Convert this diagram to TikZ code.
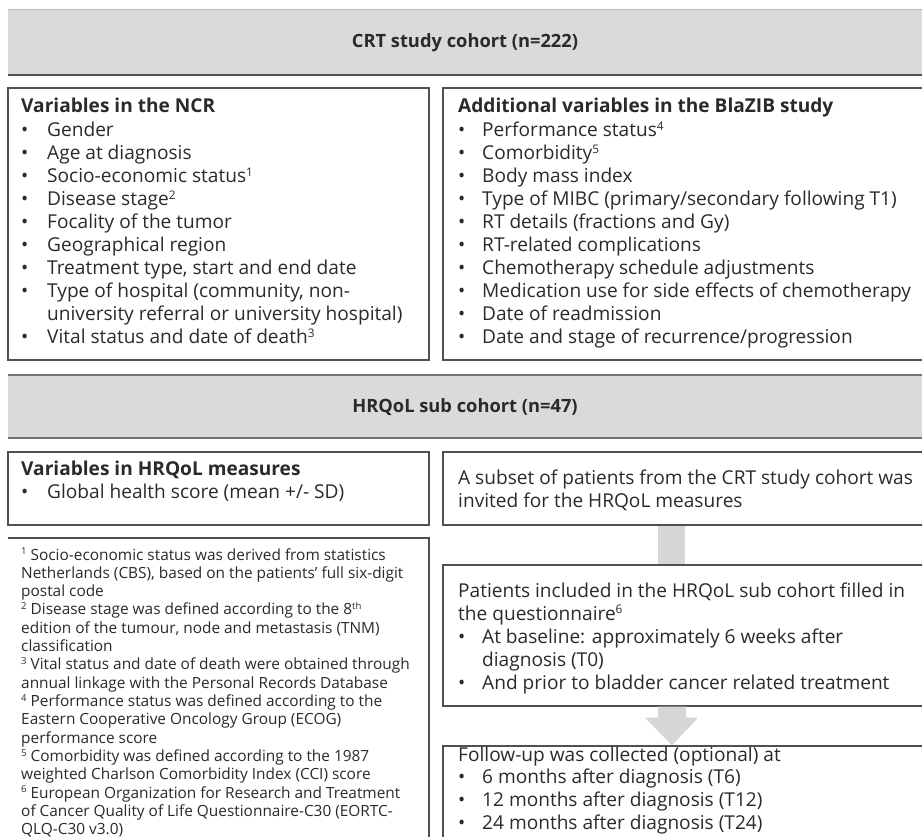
\documentclass[tikz,border=0pt]{standalone}
\usepackage{fontspec}
\setmainfont{Open Sans}
\usetikzlibrary{calc}
\definecolor{bangray}{HTML}{D9DADA}
\definecolor{edgegray}{HTML}{505050}
\definecolor{lightedge}{HTML}{BDBDBD}
\definecolor{txtc}{HTML}{2A2A2A}
\definecolor{flowgray}{HTML}{D5D6D6}
\newcommand\mainsz{\fontsize{19.1}{23}\selectfont}
\newcommand\bansz{\fontsize{18.3}{23}\selectfont}
\newcommand\fnsz{\fontsize{15.4}{18.3}\selectfont}
\newcommand\supnum[1]{\raisebox{0.36em}{\fontsize{0.62em}{0.62em}\selectfont #1}}
\begin{document}
\begin{tikzpicture}[x=1pt,y=-1pt,
  box/.style={draw=edgegray, line width=1.3pt, fill=white, anchor=north west, inner sep=0pt, outer sep=0pt},
  banner/.style={fill=bangray, anchor=north west, inner sep=0pt, outer sep=0pt},
  txt/.style={anchor=base west, inner sep=0pt, text=txtc, font=\mainsz},
  hd/.style={anchor=base west, inner sep=0pt, text=txtc, font=\mainsz\bfseries},
  bantxt/.style={anchor=base, inner sep=0pt, text=txtc, font=\bansz\bfseries},
  fn/.style={anchor=base west, inner sep=0pt, text=txtc, font=\fnsz}]
\useasboundingbox (0,0) rectangle (922,837);
\clip (0,0) rectangle (922,837);
\fill[white] (0,0) rectangle (922,837);

% ---------- banner 1
\node[banner, minimum width=940pt, minimum height=65pt] (ban1) at (8,10) {};
\draw[lightedge, line width=1pt] (ban1.north west) -- (ban1.north east);
\draw[edgegray, line width=1.3pt] (ban1.south west) -- (ban1.south east);
\node[bantxt] (ban1t) at (465,48) {CRT study cohort (n=222)};

% ---------- boxes row 1
\node[box, minimum width=421pt, minimum height=272pt] (b1l) at (8,88) {};
\node[box, minimum width=520pt, minimum height=272pt] (b1r) at (443,88) {};

\node[hd] (b1lh) at (21,113) {Variables in the NCR};
\foreach \t [count=\i from 0] in {Gender, Age at diagnosis, {Socio-economic status\supnum{1}}, {Disease stage\supnum{2}}, Focality of the tumor, Geographical region, {Treatment type, start and end date}, {Type of hospital (community, non-}}{
  \node[txt] (b1lb\i) at (21,{137+23*\i}) {\textbullet};
  \node[txt] (b1lt\i) at (47,{137+23*\i}) {\t};
}
\node[txt] (b1lc) at (47,321) {university referral or university hospital)};
\node[txt] (b1lb9) at (21,344) {\textbullet};
\node[txt] (b1lt9) at (47,344) {Vital status and date of death\supnum{3}};

\node[hd] (b1rh) at (458,113) {Additional variables in the BlaZIB study};
\foreach \t [count=\i from 0] in {{Performance status\supnum{4}}, {Comorbidity\supnum{5}}, Body mass index, {Type of MIBC (primary/secondary following T1)}, {RT details (fractions and Gy)}, RT-related complications, Chemotherapy schedule adjustments, Medication use for side effects of chemotherapy, Date of readmission, Date and stage of recurrence/progression}{
  \node[txt] (b1rb\i) at (458,{137+23*\i}) {\textbullet};
  \node[txt] (b1rt\i) at (482,{137+23*\i}) {\t};
}

% ---------- banner 2
\node[banner, minimum width=940pt, minimum height=63pt] (ban2) at (8,375) {};
\draw[edgegray!80, line width=1.3pt] (ban2.north west) -- (ban2.north east);
\draw[edgegray!80, line width=1.3pt] (ban2.south west) -- (ban2.south east);
\node[bantxt] (ban2t) at (465,413) {HRQoL sub cohort (n=47)};

% ---------- boxes row 2
\node[box, minimum width=421pt, minimum height=73pt] (b2l) at (8,452) {};
\node[box, minimum width=520pt, minimum height=73pt] (b2r) at (443,452) {};
\node[hd] (b2lh) at (21,475) {Variables in HRQoL measures};
\node[txt] (b2lb) at (21,498) {\textbullet};
\node[txt] (b2lt) at (47,498) {Global health score (mean +/- SD)};
\node[txt] (b2r1) at (458,484) {A subset of patients from the CRT study cohort was};
\node[txt] (b2r2) at (458,507) {invited for the HRQoL measures};

% ---------- footnote box
\coordinate (fnTL) at (8,538);
\coordinate (fnTR) at (429,538);
\coordinate (fnBR) at (429,845);
\draw[edgegray, line width=1.3pt] (fnTL) -- (fnTR) -- (fnBR);
\foreach \t [count=\i from 0] in {
 {\supnum{1} Socio-economic status was derived from statistics},
 {Netherlands (CBS), based on the patients’ full six-digit},
 {postal code},
 {\supnum{2} Disease stage was defined according to the 8\supnum{th}},
 {edition of the tumour, node and metastasis (TNM)},
 {classification},
 {\supnum{3} Vital status and date of death were obtained through},
 {annual linkage with the Personal Records Database},
 {\supnum{4} Performance status was defined according to the},
 {Eastern Cooperative Oncology Group (ECOG)},
 {performance score},
 {\supnum{5} Comorbidity was defined according to the 1987},
 {weighted Charlson Comorbidity Index (CCI) score},
 {\supnum{6} European Organization for Research and Treatment},
 {of Cancer Quality of Life Questionnaire-C30 (EORTC-},
 {QLQ-C30 v3.0)}}{
  \node[fn] (fn\i) at (21,{560+18.33*\i}) {\t};
}

% ---------- box 3
\node[box, minimum width=520pt, minimum height=141pt] (b3) at (443,565) {};
\node[txt] (b3a) at (458,597) {Patients included in the HRQoL sub cohort filled in};
\node[txt] (b3b) at (458,620) {the questionnaire\supnum{6}};
\node[txt] (b3bb1) at (458,643) {\textbullet};
\node[txt] (b3t1) at (482,643) {At baseline: approximately 6 weeks after};
\node[txt] (b3t1c) at (482,666) {diagnosis (T0)};
\node[txt] (b3bb2) at (458,689) {\textbullet};
\node[txt] (b3t2) at (482,689) {And prior to bladder cancer related treatment};

% ---------- box 4
\node[box, minimum width=520pt, minimum height=130pt] (b4) at (443,746) {};
\node[txt] (b4a) at (458,761) {Follow-up was collected (optional) at};
\foreach \t [count=\i from 0] in {{6 months after diagnosis (T6)}, {12 months after diagnosis (T12)}, {24 months after diagnosis (T24)}}{
  \node[txt] (b4b\i) at (458,{783+23*\i}) {\textbullet};
  \node[txt] (b4t\i) at (482,{783+23*\i}) {\t};
}

% ---------- connectors
\fill[flowgray] ($(b2r.south west)+(215,0.7)$) rectangle ($(b3.north west)+(242,-0.7)$);
\coordinate (arT) at ($(b3.south west)+(229,0.7)$);
\coordinate (arB) at ($(b4.north west)+(229,-0.7)$);
\fill[flowgray] ($(arT)+(-14,0)$) -- ($(arT)+(14,0)$) -- ($(arT)+(14,11)$) -- ($(arT)+(26,11)$)
   -- (arB) -- ($(arT)+(-27,11)$) -- ($(arT)+(-14,11)$) -- cycle;
\end{tikzpicture}
\end{document}
